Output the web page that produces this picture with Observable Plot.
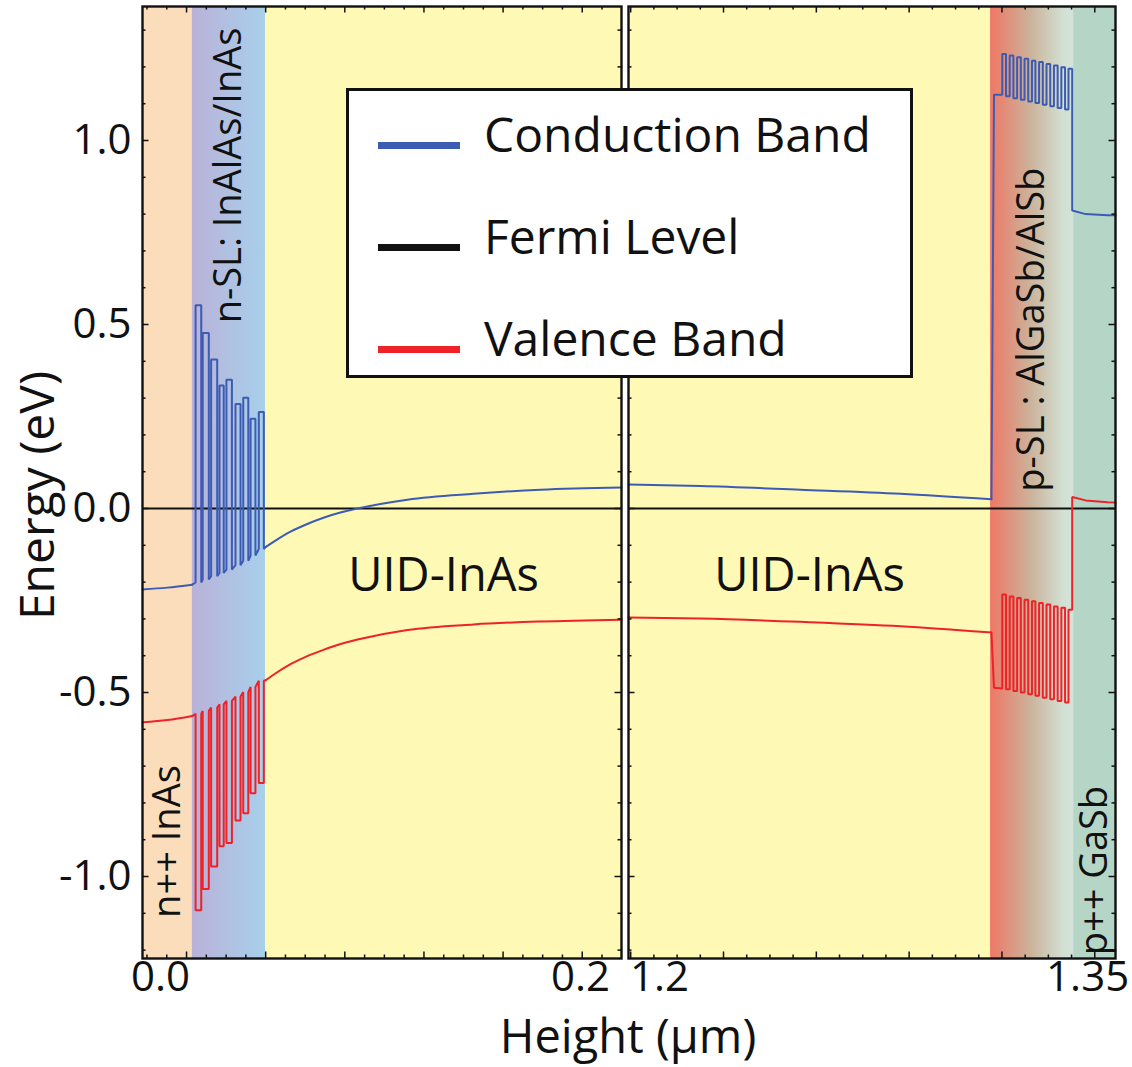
<!DOCTYPE html>
<html>
<head>
<meta charset="utf-8">
<script src="https://cdn.jsdelivr.net/npm/d3@7"></script>
<script src="https://cdn.jsdelivr.net/npm/@observablehq/plot@0.6"></script>
<style>
html,body{margin:0;padding:0;background:#fff;}
#wrap{position:relative;width:1132px;height:1067px;overflow:hidden;font-family:"Open Sans",sans-serif;color:#111;}
.panel{position:absolute;top:0;}
.panel svg{display:block;}
#legend{position:absolute;left:346px;top:88px;width:567px;height:290px;box-sizing:border-box;border:3px solid #111;background:#fff;}
.sw{position:absolute;left:29px;width:82px;height:7px;}
.lt{position:absolute;left:135px;font-size:48px;line-height:48px;white-space:nowrap;color:#111;}
#xtitle{position:absolute;left:628px;top:1005px;transform:translateX(-50%);white-space:nowrap;font-size:47px;line-height:1.3;color:#111;}
</style>
</head>
<body>
<div id="wrap">
  <svg width="0" height="0" style="position:absolute;left:0;top:0">
    <defs>
      <linearGradient id="gradNSL" x1="0" x2="1" y1="0" y2="0">
        <stop offset="0" stop-color="#BAB1D8"/>
        <stop offset="1" stop-color="#A7D0EB"/>
      </linearGradient>
      <linearGradient id="gradPSL" x1="0" x2="1" y1="0" y2="0">
        <stop offset="0" stop-color="#EE7866"/>
        <stop offset="0.5" stop-color="#CBB49C"/>
        <stop offset="0.88" stop-color="#D2E0D4"/>
        <stop offset="1" stop-color="#D4E3D9"/>
      </linearGradient>
    </defs>
  </svg>
  <div id="left" class="panel" style="left:0"></div>
  <div id="right" class="panel" style="left:626px"></div>
  <div id="legend"></div>
  <div id="xtitle">Height (µm)</div>
</div>
<script>
// ================= DATA =================
// Axis tick labels
const yTickLabels = [-1.0, -0.5, 0.0, 0.5, 1.0];
const leftXTickLabels = [0.0, 0.2];
const rightXTickLabels = [1.2, 1.35];

// Layers, left part of the broken axis (µm)
const leftLayerNames  = ["n++ InAs", "n-SL: InAlAs/InAs", "UID-InAs"];
const leftLayerStart  = [-0.00857, 0.0151, 0.0500];
const leftLayerEnd    = [0.0151, 0.0500, 0.2195];
const leftLabelEnergy = [-0.905, 0.905, -0.183];

// Layers, right part of the broken axis (µm)
const rightLayerNames  = ["UID-InAs", "p-SL : AlGaSb/AlSb", "p++ GaSb"];
const rightLayerStart  = [1.18914, 1.3160, 1.3451];
const rightLayerEnd    = [1.3160, 1.3451, 1.35977];
const rightLabelEnergy = [-0.183, 0.486, -0.984];

// n++ InAs contact
const nppX  = [-0.00857, 0.0033, 0.0151];
const nppCB = [-0.220, -0.215, -0.207];
const nppVB = [-0.581, -0.575, -0.564];

// n-SL InAlAs/InAs: barrier layers
const nslBarrierStart = [0.0167, 0.0201, 0.0241, 0.0281, 0.0314, 0.0357, 0.0394, 0.0429, 0.0468];
const nslBarrierEnd   = [0.0194, 0.0230, 0.0270, 0.0301, 0.0340, 0.0381, 0.0418, 0.0452, 0.0492];
const nslCBBarrier = [0.552, 0.477, 0.405, 0.334, 0.350, 0.284, 0.301, 0.244, 0.262];
const nslCBWell    = [-0.201, -0.193, -0.184, -0.175, -0.166, -0.154, -0.142, -0.128, -0.110];
const nslVBBarrier = [-1.092, -1.034, -0.973, -0.918, -0.909, -0.848, -0.828, -0.774, -0.746];
const nslVBWell    = [-0.558, -0.550, -0.541, -0.532, -0.523, -0.511, -0.499, -0.485, -0.468];

// UID-InAs, left part
const uidLX  = [0.0500, 0.0540, 0.0619, 0.0699, 0.0776, 0.0857, 0.0938, 0.1176, 0.1490, 0.1810, 0.2195];
const uidLCB = [-0.105, -0.090, -0.063, -0.042, -0.025, -0.011, 0.000, 0.024, 0.040, 0.051, 0.057];
const uidLVB = [-0.467, -0.451, -0.423, -0.401, -0.384, -0.368, -0.356, -0.330, -0.315, -0.307, -0.302];

// UID-InAs, right part
const uidRX  = [1.18914, 1.2144, 1.2494, 1.2845, 1.3163];
const uidRCB = [0.065, 0.061, 0.051, 0.040, 0.025];
const uidRVB = [-0.296, -0.299, -0.308, -0.320, -0.337];

// p-SL AlGaSb/AlSb: entry step then periodic layers
const pslEntryX  = [1.3172, 1.3201];
const pslEntryCB = [1.124, 1.124];
const pslEntryVB = [-0.487, -0.489];
const pslHighStart = [1.3201, 1.3227, 1.3253, 1.3279, 1.3305, 1.3330, 1.3356, 1.3382, 1.3408, 1.3433];
const pslHighEnd   = [1.3214, 1.3240, 1.3266, 1.3292, 1.3317, 1.3343, 1.3369, 1.3395, 1.3421, 1.3446];
const pslCBHigh = [1.235, 1.231, 1.226, 1.222, 1.217, 1.213, 1.208, 1.204, 1.199, 1.195];
const pslCBLow  = [1.120, 1.115, 1.111, 1.106, 1.102, 1.097, 1.093, 1.088, 1.084];
const pslVBHigh = [-0.234, -0.239, -0.243, -0.248, -0.252, -0.257, -0.261, -0.266, -0.270, -0.275];
const pslVBLow  = [-0.491, -0.496, -0.500, -0.505, -0.509, -0.514, -0.518, -0.523, -0.527];

// p++ GaSb contact
const ppX  = [1.3446, 1.3493, 1.3570, 1.35977];
const ppCB = [0.810, 0.800, 0.797, 0.797];
const ppVB = [0.031, 0.022, 0.017, 0.016];

// Legend
const legendNames = ["Conduction Band", "Fermi Level", "Valence Band"];

// ================= STYLE / LAYOUT =================
const CB_COLOR = "#3C5CB4", VB_COLOR = "#EE2227", FERMI_COLOR = "#111";
const legendColors = [CB_COLOR, FERMI_COLOR, VB_COLOR];
const leftFills = ["#FBDDBB", "url(#gradNSL)", "#FEF9B5"];
const rightFills = ["#FEF9B5", "url(#gradPSL)", "#B5D5C6"];
const Y_DOMAIN = [-1.2228, 1.3641];
const LEFT_X_DOMAIN = [-0.00857, 0.2195];
const RIGHT_X_DOMAIN = [1.18914, 1.35977];
const PLOT_H = 1010, MT = 6, MB = 52;
const FRAME_H = PLOT_H - MT - MB;
const FONT = '"Open Sans", sans-serif';
const TICK_FONT = 42;

// ================= BUILD TABLES =================
const pts = (xs, ys) => xs.map((x, i) => ({x, y: ys[i]}));

function barrierPath(startPt, bs, be, top, well, endPt) {
  const p = [startPt];
  bs.forEach((s, i) => {
    p.push({x: s, y: well[i]}, {x: s, y: top[i]}, {x: be[i], y: top[i]}, {x: be[i], y: well[i]});
  });
  p.push(endPt);
  return p;
}
function squarePath(startPts, hs, he, high, low, endPts) {
  const p = [...startPts];
  let prev = startPts[startPts.length - 1].y;
  hs.forEach((s, i) => {
    p.push({x: s, y: prev}, {x: s, y: high[i]}, {x: he[i], y: high[i]});
    if (i < low.length) { p.push({x: he[i], y: low[i]}); prev = low[i]; }
  });
  return p.concat(endPts);
}

const leftCB = {
  npp: pts(nppX, nppCB),
  sl: barrierPath({x: nppX[2], y: nppCB[2]}, nslBarrierStart, nslBarrierEnd, nslCBBarrier, nslCBWell, {x: uidLX[0], y: uidLCB[0]}),
  uid: pts(uidLX, uidLCB)
};
const leftVB = {
  npp: pts(nppX, nppVB),
  sl: barrierPath({x: nppX[2], y: nppVB[2]}, nslBarrierStart, nslBarrierEnd, nslVBBarrier, nslVBWell, {x: uidLX[0], y: uidLVB[0]}),
  uid: pts(uidLX, uidLVB)
};
const rightCB = {
  uid: pts(uidRX, uidRCB),
  sl: squarePath([{x: uidRX[4], y: uidRCB[4]}, ...pts(pslEntryX, pslEntryCB)], pslHighStart, pslHighEnd, pslCBHigh, pslCBLow, pts(ppX, ppCB))
};
const rightVB = {
  uid: pts(uidRX, uidRVB),
  sl: squarePath([{x: uidRX[4], y: uidRVB[4]}, ...pts(pslEntryX, pslEntryVB)], pslHighStart, pslHighEnd, pslVBHigh, pslVBLow, pts(ppX, ppVB))
};

const leftRegions = leftLayerNames.map((n, i) => ({name: n, x1: leftLayerStart[i], x2: leftLayerEnd[i], fill: leftFills[i], lx: (leftLayerStart[i] + leftLayerEnd[i]) / 2, ly: leftLabelEnergy[i], vertical: n !== "UID-InAs"}));
const rightRegions = rightLayerNames.map((n, i) => ({name: n, x1: rightLayerStart[i], x2: rightLayerEnd[i], fill: rightFills[i], lx: (rightLayerStart[i] + rightLayerEnd[i]) / 2, ly: rightLabelEnergy[i], vertical: n !== "UID-InAs"}));

// ================= PANELS =================
function buildPanel(o) {
  const fw = o.width - o.marginLeft - o.marginRight;
  const xt = d3.range(0, 40).map(k => ({v: o.tickStart + k * o.tickStep, major: k % 4 === 0}))
    .filter(t => t.v >= o.xDomain[0] - 1e-6 && t.v <= o.xDomain[1] + 1e-6);
  const xMinor = xt.filter(t => !t.major).map(t => t.v);
  const xMajor = xt.filter(t => t.major).map(t => t.v);
  const yAll = d3.range(-12, 14).map(i => i / 10);
  const yMinor = yAll.filter(v => Math.abs(v * 2 - Math.round(v * 2)) > 1e-6);
  const yMajor = yAll.filter(v => Math.abs(v * 2 - Math.round(v * 2)) <= 1e-6);
  const ts = {stroke: "#111", strokeWidth: 1.5};
  const mn = 3.5, mj = 6.5;
  const marks = [
    ...o.regions.map(r => Plot.rect([r], {x1: "x1", x2: "x2", y1: Y_DOMAIN[0], y2: Y_DOMAIN[1], fill: r.fill})),
    Plot.ruleY([0], {stroke: FERMI_COLOR, strokeWidth: 2}),
    ...o.lines.map(l => Plot.line(l.points, {x: "x", y: "y", stroke: l.color, strokeWidth: 2, curve: l.curve, strokeLinejoin: "miter"})),
    Plot.text(o.regions.filter(r => r.vertical), {x: "lx", y: "ly", text: "name", rotate: -90, fontSize: 38, fill: "#111", textAnchor: "middle", lineAnchor: "middle"}),
    Plot.text(o.regions.filter(r => !r.vertical), {x: "lx", y: "ly", text: "name", fontSize: 47, fill: "#111", textAnchor: "middle", lineAnchor: "middle"}),
    // inward frame ticks on all four sides
    Plot.tickX(xMinor, {x: d => d, insetTop: FRAME_H - mn, ...ts}),
    Plot.tickX(xMajor, {x: d => d, insetTop: FRAME_H - mj, ...ts}),
    Plot.tickX(xMinor, {x: d => d, insetBottom: FRAME_H - mn, ...ts}),
    Plot.tickX(xMajor, {x: d => d, insetBottom: FRAME_H - mj, ...ts}),
    Plot.tickY(yMinor, {y: d => d, insetRight: fw - mn, ...ts}),
    Plot.tickY(yMajor, {y: d => d, insetRight: fw - mj, ...ts}),
    Plot.tickY(yMinor, {y: d => d, insetLeft: fw - mn, ...ts}),
    Plot.tickY(yMajor, {y: d => d, insetLeft: fw - mj, ...ts}),
    Plot.frame({stroke: "#111", strokeWidth: 2.4}),
    Plot.axisX({ticks: o.xLabels, tickSize: 0, tickPadding: 3, tickFormat: o.xFormat, fontSize: TICK_FONT, label: null, fill: "#111"})
  ];
  if (o.yAxis) {
    marks.push(Plot.axisY({ticks: yTickLabels, tickSize: 0, tickPadding: 11, tickFormat: d => d.toFixed(1), fontSize: TICK_FONT, label: null, fill: "#111"}));
    marks.push(Plot.text(["Energy (eV)"], {frameAnchor: "left", text: d => d, rotate: -90, dx: -89, dy: 13, fontSize: 48, fill: "#111", textAnchor: "middle", lineAnchor: "bottom"}));
  }
  return Plot.plot({
    width: o.width, height: PLOT_H,
    marginTop: MT, marginBottom: MB, marginLeft: o.marginLeft, marginRight: o.marginRight,
    x: {domain: o.xDomain},
    y: {domain: Y_DOMAIN, axis: o.yAxis ? undefined : null},
    style: {fontFamily: FONT, fontSize: TICK_FONT + "px", color: "#111", background: "transparent", overflow: "visible"},
    marks
  });
}

const leftPlot = buildPanel({
  width: 623, marginLeft: 142, marginRight: 2, xDomain: LEFT_X_DOMAIN,
  regions: leftRegions,
  lines: [
    {points: leftCB.npp, color: CB_COLOR, curve: "monotone-x"},
    {points: leftCB.sl, color: CB_COLOR, curve: "linear"},
    {points: leftCB.uid, color: CB_COLOR, curve: "monotone-x"},
    {points: leftVB.npp, color: VB_COLOR, curve: "monotone-x"},
    {points: leftVB.sl, color: VB_COLOR, curve: "linear"},
    {points: leftVB.uid, color: VB_COLOR, curve: "monotone-x"}
  ],
  xLabels: leftXTickLabels, xFormat: d => d.toFixed(1),
  tickStart: -0.02528, tickStep: 0.00942, yAxis: true
});
const rightPlot = buildPanel({
  width: 506, marginLeft: 2, marginRight: 17, xDomain: RIGHT_X_DOMAIN,
  regions: rightRegions,
  lines: [
    {points: rightCB.uid, color: CB_COLOR, curve: "monotone-x"},
    {points: rightCB.sl, color: CB_COLOR, curve: "linear"},
    {points: rightVB.uid, color: VB_COLOR, curve: "monotone-x"},
    {points: rightVB.sl, color: VB_COLOR, curve: "linear"}
  ],
  xLabels: rightXTickLabels, xFormat: d => String(d),
  tickStart: 1.18991, tickStep: 0.00813, yAxis: false
});
document.getElementById("left").appendChild(leftPlot);
document.getElementById("right").appendChild(rightPlot);

// ================= LEGEND =================
const legend = document.getElementById("legend");
legendNames.forEach((name, i) => {
  const baseline = 153 + i * 102 - 91; // relative to legend inner top
  const sw = document.createElement("div");
  sw.className = "sw";
  sw.style.top = (baseline - 8 - 3.5) + "px";
  sw.style.background = legendColors[i];
  legend.appendChild(sw);
  const t = document.createElement("div");
  t.className = "lt";
  t.style.top = (baseline - 42.6) + "px";
  t.textContent = name;
  legend.appendChild(t);
});
</script>
</body>
</html>
